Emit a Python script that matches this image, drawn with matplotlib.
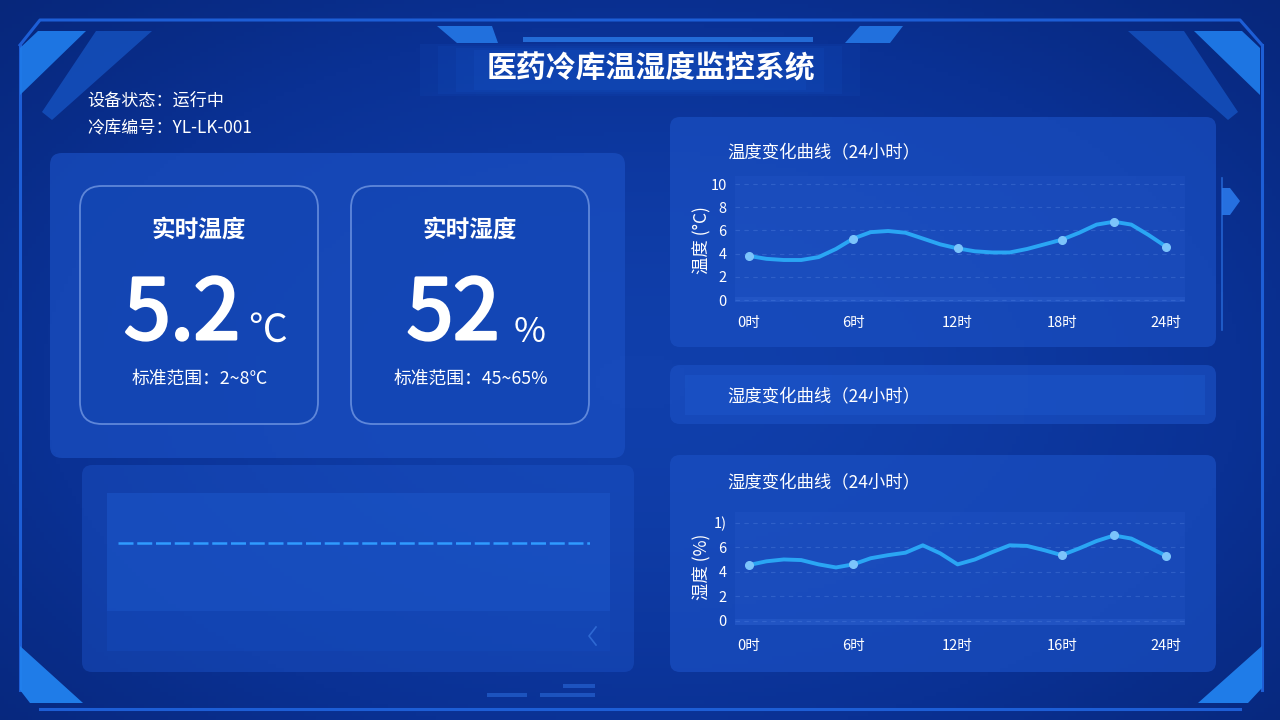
import numpy as np
import matplotlib
matplotlib.use("Agg")
import matplotlib.pyplot as plt
import matplotlib.patheffects as pe
from matplotlib.patches import FancyBboxPatch, Polygon, Rectangle
from matplotlib.colors import LinearSegmentedColormap

plt.rcParams['font.family'] = ['Noto Sans CJK SC', 'DejaVu Sans']

# ---- data ----
title = "医药冷库温湿度监控系统"
status_lines = ["设备状态：运行中", "冷库编号：YL-LK-001"]
temp_now, temp_unit, temp_range = "5.2", "℃", "标准范围：2~8℃"
hum_now, hum_unit, hum_range = "52", "%", "标准范围：45~65%"

hours = list(range(25))
temp_values = [3.8, 3.55, 3.45, 3.45, 3.7, 4.4, 5.3, 5.85, 5.95, 5.8, 5.3, 4.8, 4.45,
               4.2, 4.1, 4.1, 4.4, 4.8, 5.2, 5.8, 6.5, 6.75, 6.5, 5.6, 4.6]
temp_marker_hours = [0, 6, 12, 18, 21, 24]
hum_values = [4.55, 4.85, 5.0, 4.95, 4.6, 4.35, 4.6, 5.1, 5.35, 5.55, 6.15, 5.5, 4.6,
              5.0, 5.6, 6.15, 6.1, 5.75, 5.35, 5.9, 6.5, 6.95, 6.7, 6.0, 5.3]
hum_marker_hours = [0, 6, 18, 21, 24]

x_ticks = [0, 6, 12, 18, 24]
temp_xlabels = ["0时", "6时", "12时", "18时", "24时"]
hum_xlabels = ["0时", "6时", "12时", "16时", "24时"]
temp_yticks = [0, 2, 4, 6, 8, 10]
hum_yticks = [0, 2, 4, 6, 8]
hum_ylabels = ["0", "2", "4", "6", "1)"]

flat_hours = [0, 24]
flat_values = [5, 5]

W, H = 1280, 720
fig = plt.figure(figsize=(12.8, 7.2), dpi=100)
bg = fig.add_axes([0, 0, 1, 1])
bg.axis("off")

# background glow
yy, xx = np.mgrid[0:H:4, 0:W:4]
glow = np.exp(-(((xx - 640) / 720) ** 2 + ((yy - 380) / 430) ** 2))
cmap = LinearSegmentedColormap.from_list("bg", ["#05206a", "#0a3194", "#103fab"])
bg.imshow(glow, extent=(0, W, H, 0), cmap=cmap, vmin=0, vmax=1, aspect="auto", zorder=0)
bg.set_xlim(0, W)
bg.set_ylim(H, 0)


def poly(pts, color, alpha=1.0, z=1):
    bg.add_patch(Polygon(pts, closed=True, facecolor=color, edgecolor="none", alpha=alpha, zorder=z))


def panel(x, y, w, h, face, alpha, r=10, edge="none", lw=0, z=2):
    bg.add_patch(FancyBboxPatch((x, y), w, h, boxstyle=f"round,pad=0,rounding_size={r}",
                                facecolor=face, edgecolor=edge, linewidth=lw, alpha=alpha, zorder=z))


# frame lines
frame_c = "#1d5ed6"
bg.plot([20, 40, 1240, 1262], [45, 20, 20, 45], color=frame_c, lw=2.2, zorder=1)
bg.plot([20, 20], [45, 690], color=frame_c, lw=2.2, zorder=1)
bg.plot([1262, 1262], [45, 690], color=frame_c, lw=2.2, zorder=1)
bg.plot([40, 1240], [709, 709], color=frame_c, lw=2.2, zorder=1)

# corner accents
poly([(20, 48), (38, 31), (86, 31), (20, 95)], "#1f7ae8", 0.95)
poly([(96, 31), (152, 31), (52, 120), (42, 112)], "#1a60d4", 0.6)
poly([(1260, 48), (1242, 31), (1194, 31), (1260, 95)], "#1f7ae8", 0.95)
poly([(1184, 31), (1128, 31), (1228, 120), (1238, 112)], "#1a60d4", 0.6)
poly([(20, 646), (20, 690), (30, 703), (83, 703)], "#2181ee", 0.95)
poly([(1262, 646), (1262, 688), (1248, 703), (1198, 703)], "#2181ee", 0.95)

# title band, soft edges
for k, a in enumerate([0.12, 0.12, 0.14, 0.16]):
    bg.add_patch(Rectangle((420 + 18 * k, 44 + 2 * k), 440 - 36 * k, 52 - 4 * k,
                           facecolor="#1a5ad0", alpha=a, lw=0, zorder=1))
bg.add_patch(Rectangle((523, 37), 290, 5, facecolor="#2a7ae8", alpha=0.8, zorder=1))
poly([(437, 26), (492, 26), (498, 43), (457, 43)], "#2478e6", 0.9)
poly([(860, 26), (903, 26), (890, 43), (845, 43)], "#2478e6", 0.9)
bg.text(651, 68, title, color="white", fontsize=21.5, fontweight="bold",
        ha="center", va="center", zorder=5)

for i, line in enumerate(status_lines):
    bg.text(87, 101 + 27 * i, line, color="white", fontsize=12.3, ha="left", va="center", zorder=5)

# left top panel with two cards
panel(50, 153, 575, 305, "#1a4fc2", 0.7, r=12)
thick = [pe.withStroke(linewidth=2.2, foreground="white")]
for cx, head, big, unit, rng, ux in [
    (199, "实时温度", temp_now, temp_unit, temp_range, 268),
    (470, "实时湿度", hum_now, hum_unit, hum_range, 530),
]:
    panel(cx - 119, 186, 238, 238, "#1245b2", 0.5, r=22, edge="#a9c8ff", lw=1.3, z=3)
    bg.text(cx, 230, head, color="white", fontsize=17, fontweight="bold",
            ha="center", va="center", zorder=5)
    bg.text(cx - 17, 339, big, color="white", fontsize=60,
            ha="center", va="baseline", zorder=5, path_effects=thick)
    bg.text(ux, 342, unit, color="white", fontsize=28 if unit == "℃" else 25,
            ha="center", va="baseline", zorder=5)
    bg.text(cx + 1, 379, rng, color="white", fontsize=12.8, ha="center", va="center", zorder=5)

# left bottom panel
panel(82, 465, 552, 207, "#1a4fc2", 0.5, r=10)
bg.add_patch(Rectangle((107, 493), 503, 118, facecolor="#1b55c8", alpha=0.6, zorder=3))
bg.add_patch(Rectangle((107, 611), 503, 40, facecolor="#144abb", alpha=0.45, zorder=3))
bg.plot([596, 589, 596], [627, 636, 645], color="#3a78e0", lw=1.2, alpha=0.7, zorder=4)

ax_flat = fig.add_axes([118 / W, 1 - 593 / H, (590 - 118) / W, 100 / H])
ax_flat.set_xlim(0, 24)
ax_flat.set_ylim(0, 10)
ax_flat.axis("off")
ax_flat.plot(flat_hours, flat_values, color="#2f9bff", lw=1.8, dashes=(6, 1.5))

# right panels
panel(670, 117, 546, 230, "#1a4fc2", 0.7, r=10)
panel(670, 365, 546, 59, "#1a4fc2", 0.7, r=10)
bg.add_patch(Rectangle((685, 375), 520, 40, facecolor="#1d58cc", alpha=0.45, zorder=3))
panel(670, 455, 546, 217, "#1a4fc2", 0.7, r=10)

for ty, txt in [(152, "温度变化曲线（24小时）"), (396, "湿度变化曲线（24小时）"),
                (482, "湿度变化曲线（24小时）")]:
    bg.text(727, ty, txt, color="white", fontsize=12.5, ha="left", va="center", zorder=5)

bg.text(702, 240, "温度 (°C)", color="white", fontsize=12.5, rotation=90,
        ha="center", va="center", zorder=5)
bg.text(702, 567, "湿度 (%)", color="white", fontsize=12.5, rotation=90,
        ha="center", va="center", zorder=5)

# right edge marker
bg.plot([1222, 1222], [178, 330], color="#2a6fe0", lw=1.2, alpha=0.8, zorder=1)
poly([(1222, 188), (1230, 188), (1240, 201), (1230, 215), (1222, 215)], "#2a78ea", 0.9)

# bottom blurred bars
for x0, x1, y0 in [(487, 527, 693), (540, 595, 693), (563, 595, 684)]:
    bg.add_patch(Rectangle((x0, y0), x1 - x0, 4, facecolor="#2c6fe0", alpha=0.55, zorder=1))


def line_chart(top, bottom, ymax, ymin, values, markers, xlabels, yticks, ylabels):
    ax = fig.add_axes([735 / W, 1 - bottom / H, 450 / W, (bottom - top) / H])
    ax.set_facecolor((0.2, 0.4, 0.85, 0.15))
    ax.set_xlim(-0.81, 25.09)
    ax.set_ylim(ymin, ymax)
    for s in ax.spines.values():
        s.set_visible(False)
    ax.axhspan(ymin, ymin + 0.45, color="#3a70dd", alpha=0.25, lw=0)
    ax.grid(axis="y", color="#6f9cf0", alpha=0.25, lw=0.8, ls=(0, (4, 4)))
    ax.set_axisbelow(True)
    ax.plot(hours, values, color="#2aa6f4", lw=2.8, solid_capstyle="round",
            solid_joinstyle="round", zorder=3)
    ax.plot(markers, [values[h] for h in markers], "o", color="#7cc4fb", ms=5.5, zorder=4)
    ax.set_xticks(x_ticks)
    ax.set_xticklabels(xlabels)
    ax.set_yticks(yticks)
    ax.set_yticklabels(ylabels)
    ax.tick_params(axis="x", length=0, pad=10, labelsize=10.5, colors="white")
    ax.tick_params(axis="y", length=0, pad=6, labelsize=10.5, colors="white")
    return ax


line_chart(176, 302, 10.69, -0.17, temp_values, temp_marker_hours,
           temp_xlabels, temp_yticks, temp_yticks)
line_chart(512, 625, 8.86, -0.33, hum_values, hum_marker_hours,
           hum_xlabels, hum_yticks, hum_ylabels)

fig.savefig("out.png", dpi=100)
